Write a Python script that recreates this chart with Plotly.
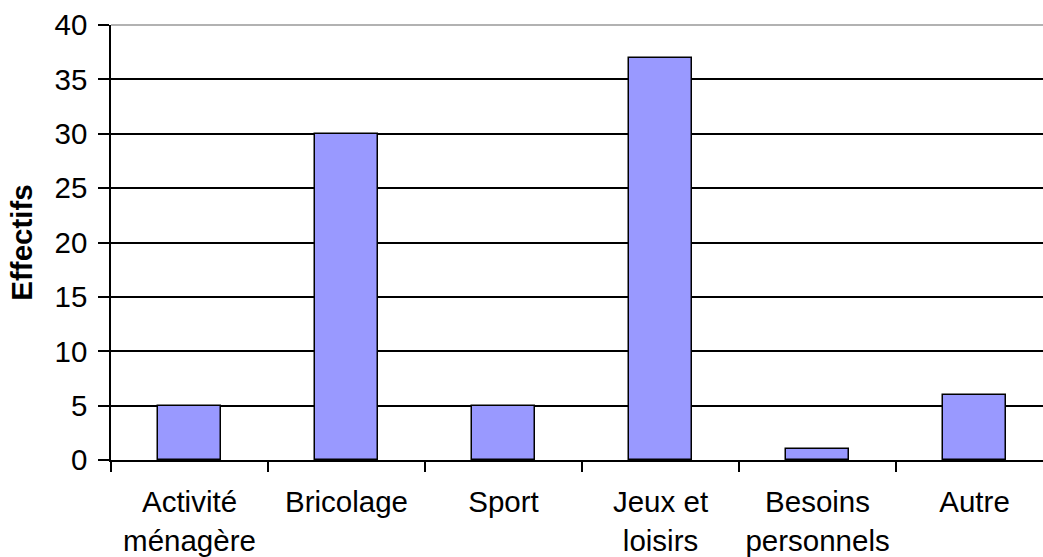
import plotly.graph_objects as go

categories = ["Activité<br>ménagère", "Bricolage", "Sport", "Jeux et<br>loisirs",
              "Besoins<br>personnels", "Autre"]
effectifs = [5, 30, 5, 37, 1, 6]
y_ticks = [0, 5, 10, 15, 20, 25, 30, 35, 40]

BAR_COLOR = "#9999FF"
FONT = "Liberation Sans, Arial, sans-serif"
FS = 29.5

fig = go.Figure(go.Bar(
    x=categories,
    y=effectifs,
    width=0.4,
    marker=dict(color=BAR_COLOR, line=dict(color="black", width=1.5)),
))

fig.update_layout(
    width=1043,
    height=557,
    margin=dict(l=111, r=0, t=25, b=97),
    paper_bgcolor="white",
    plot_bgcolor="white",
    font=dict(family=FONT, size=FS, color="black"),
    showlegend=False,
    bargap=0,
)
fig.update_xaxes(
    type="category",
    range=[-0.5, 5.436],
    tickson="boundaries",
    ticks="outside",
    ticklen=10,
    tickwidth=1.5,
    tickcolor="black",
    showgrid=False,
    showline=True,
    linecolor="black",
    linewidth=1.5,
    tickfont=dict(size=FS),
    ticklabelstandoff=15,
    automargin=False,
)
fig.update_yaxes(
    range=[0, 40],
    tickvals=y_ticks,
    ticks="outside",
    ticklen=11,
    tickwidth=1.5,
    tickcolor="black",
    showgrid=True,
    gridcolor="black",
    gridwidth=1.5,
    showline=True,
    linecolor="black",
    linewidth=1.5,
    zeroline=False,
    tickfont=dict(size=FS),
    ticklabelstandoff=5,
    title=dict(text="<b>Effectifs</b>", font=dict(size=FS), standoff=13),
    automargin=False,
)
# plot-area top border appears grey in the original
fig.add_shape(type="line", xref="paper", yref="paper", x0=0, x1=1, y0=1, y1=1,
              line=dict(color="#999999", width=1.5))

fig.write_html("out.html", config={"displayModeBar": False},
               post_script="document.body.style.margin='0';")
